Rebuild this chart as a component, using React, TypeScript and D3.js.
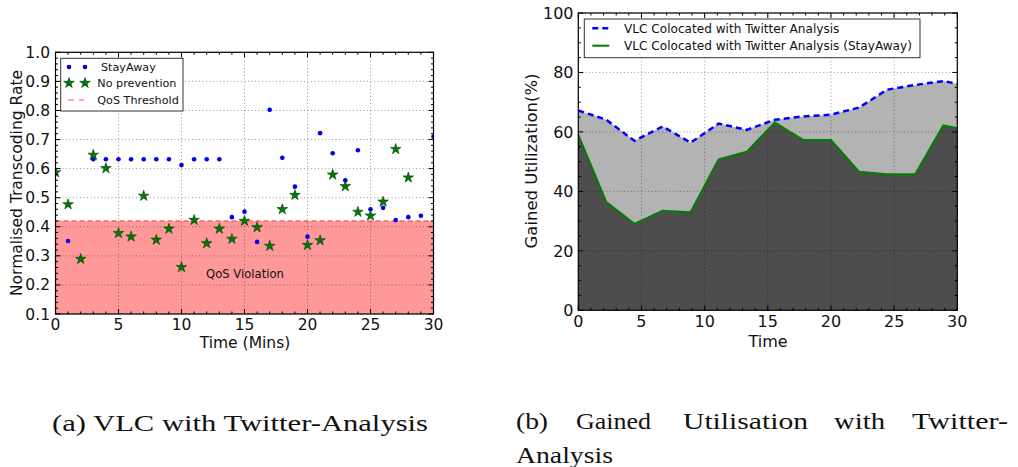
import React from "react";
import * as d3 from "d3";

// ---------- Left chart data ----------
const stayTimes = [0,1,2,3,4,5,6,7,8,9,10,11,12,13,14,15,16,17,18,19,20,21,22,23,24,25,26,27,28,29,30];
const stayAwayRate = [0.584,0.351,0.289,0.632,0.632,0.632,0.632,0.632,0.632,0.632,0.612,0.632,0.632,0.632,0.433,0.452,0.348,0.802,0.637,0.538,0.366,0.722,0.653,0.56,0.663,0.46,0.465,0.423,0.433,0.438,0.71];
const noPrevTimes = [0,1,2,3,4,5,6,7,8,9,10,11,12,13,14,15,16,17,18,19,20,21,22,23,24,25,26,27,28];
const noPreventionRate = [0.587,0.477,0.289,0.647,0.601,0.378,0.366,0.506,0.355,0.393,0.261,0.423,0.343,0.393,0.358,0.42,0.398,0.334,0.46,0.509,0.337,0.353,0.579,0.539,0.451,0.438,0.486,0.667,0.569];
const qosThreshold = 0.42;
const leftYTicks = [0.1,0.2,0.3,0.4,0.5,0.6,0.7,0.8,0.9,1.0];
const xTicks = [0,5,10,15,20,25,30];

// ---------- Right chart data ----------
const utilTimes = [0,2.22,4.44,6.67,8.89,11.11,13.33,15.56,17.78,20,22.22,24.44,26.67,28.89,31.11];
const colocatedUtil = [67.2,64.1,57.0,61.8,56.4,62.8,60.7,64.1,65.2,65.8,68.2,74.2,75.8,77.1,75.3];
const stayAwayUtil = [59.0,36.4,29.1,33.5,33.0,50.8,53.3,63.2,57.3,57.3,46.6,45.8,45.8,62.2,60.4];
const rightYTicks = [0,20,40,60,80,100];

const SANS = "'DejaVu Sans', sans-serif";
const SERIF = "'Liberation Serif', serif";

function starPath(cx: number, cy: number, R: number) {
  const r = R * 0.382;
  const pts: string[] = [];
  for (let i = 0; i < 10; i++) {
    const rad = i % 2 === 0 ? R : r;
    const a = -Math.PI / 2 + (i * Math.PI) / 5;
    pts.push(`${(cx + rad * Math.cos(a)).toFixed(2)},${(cy + rad * Math.sin(a)).toFixed(2)}`);
  }
  return "M" + pts.join("L") + "Z";
}

function Frame({ x, y, xMinor, yMinor, xMajor, yMajor }: any) {
  const [x0, x1] = x.range();
  const [y0, y1] = y.range(); // y0 bottom, y1 top
  const els: any[] = [];
  xMinor.forEach((v: number, i: number) => {
    const isMaj = xMajor.includes(v);
    const L = isMaj ? 5 : 2.5;
    const px = x(v);
    els.push(<line key={"xb" + i} x1={px} x2={px} y1={y0} y2={y0 - L} stroke="#000" strokeWidth={1} />);
    els.push(<line key={"xt" + i} x1={px} x2={px} y1={y1} y2={y1 + L} stroke="#000" strokeWidth={1} />);
  });
  yMinor.forEach((v: number, i: number) => {
    const isMaj = yMajor.some((m: number) => Math.abs(m - v) < 1e-6);
    const L = isMaj ? 5 : 2.5;
    const py = y(v);
    els.push(<line key={"yl" + i} x1={x0} x2={x0 + L} y1={py} y2={py} stroke="#000" strokeWidth={1} />);
    els.push(<line key={"yr" + i} x1={x1} x2={x1 - L} y1={py} y2={py} stroke="#000" strokeWidth={1} />);
  });
  return (
    <g>
      {els}
      <rect x={x0} y={y1} width={x1 - x0} height={y0 - y1} fill="none" stroke="#000" strokeWidth={1.2} />
    </g>
  );
}

function Grid({ x, y, xs, ys }: any) {
  const [x0, x1] = x.range();
  const [y0, y1] = y.range();
  return (
    <g stroke="#000" strokeOpacity={0.45} strokeWidth={0.9} strokeDasharray="1,2.5">
      {xs.map((v: number, i: number) => (
        <line key={"gx" + i} x1={x(v)} x2={x(v)} y1={y0} y2={y1} />
      ))}
      {ys.map((v: number, i: number) => (
        <line key={"gy" + i} x1={x0} x2={x1} y1={y(v)} y2={y(v)} />
      ))}
    </g>
  );
}

function LeftChart() {
  const x = d3.scaleLinear().domain([0, 30]).range([55.5, 433.5]);
  const y = d3.scaleLinear().domain([0.1, 1.0]).range([314, 52.3]);
  const xMinor = d3.range(0, 31, 1);
  const yMinor = d3.range(0, 46).map((i) => +(0.1 + i * 0.02).toFixed(3));
  return (
    <g>
      <defs>
        <clipPath id="clipL">
          <rect x={55.5} y={52.3} width={378} height={261.7} />
        </clipPath>
      </defs>
      <rect x={x(0)} y={y(qosThreshold)} width={x(30) - x(0)} height={y(0.1) - y(qosThreshold)} fill="#ff9999" />
      <Grid x={x} y={y} xs={xTicks} ys={leftYTicks} />
      <line x1={x(0)} x2={x(30)} y1={y(qosThreshold)} y2={y(qosThreshold)} stroke="#ff3333" strokeWidth={1} strokeDasharray="5,3" />
      <text x={245} y={278} fontFamily={SANS} fontSize={11.6} textAnchor="middle" fill="#111">QoS Violation</text>
      <g clipPath="url(#clipL)">
        {stayTimes.map((t, i) => (
          <circle key={"b" + i} cx={x(t)} cy={y(stayAwayRate[i])} r={2.3} fill="#0000e6" />
        ))}
        {noPrevTimes.map((t, i) => (
          <path key={"s" + i} d={starPath(x(t), y(noPreventionRate[i]), 5.6)} fill="#007a00" stroke="#0a3a0a" strokeWidth={0.6} />
        ))}
      </g>
      <Frame x={x} y={y} xMinor={xMinor} yMinor={yMinor} xMajor={xTicks} yMajor={leftYTicks} />
      {leftYTicks.map((v) => (
        <text key={"yt" + v} x={50} y={y(v) + 5.5} fontFamily={SANS} fontSize={15.5} textAnchor="end" fill="#111">{v.toFixed(1)}</text>
      ))}
      {xTicks.map((v) => (
        <text key={"xt" + v} x={x(v)} y={330} fontFamily={SANS} fontSize={15.5} textAnchor="middle" fill="#111">{v}</text>
      ))}
      <text x={245} y={348} fontFamily={SANS} fontSize={15.5} textAnchor="middle" fill="#111">Time (Mins)</text>
      <text transform="translate(22,183) rotate(-90)" fontFamily={SANS} fontSize={15.5} textAnchor="middle" fill="#111">Normalised Transcoding Rate</text>
      {/* legend */}
      <rect x={60.7} y={58.3} width={122.3} height={52.7} fill="#fff" stroke="#333" strokeWidth={1} />
      <circle cx={69} cy={67} r={2.3} fill="#0000e6" />
      <circle cx={85} cy={67} r={2.3} fill="#0000e6" />
      <text x={101} y={71} fontFamily={SANS} fontSize={11.2} fill="#111">StayAway</text>
      <path d={starPath(69, 83, 5.6)} fill="#007a00" stroke="#0a3a0a" strokeWidth={0.6} />
      <path d={starPath(85, 83, 5.6)} fill="#007a00" stroke="#0a3a0a" strokeWidth={0.6} />
      <text x={97.3} y={87} fontFamily={SANS} fontSize={11.2} fill="#111">No prevention</text>
      <line x1={68} x2={84} y1={100} y2={100} stroke="#ff5555" strokeWidth={1} strokeDasharray="6,5" />
      <text x={97.3} y={104} fontFamily={SANS} fontSize={11.2} fill="#111">QoS Threshold</text>
    </g>
  );
}

function RightChart() {
  const x = d3.scaleLinear().domain([0, 30]).range([578.3, 957.3]);
  const y = d3.scaleLinear().domain([0, 100]).range([310.3, 13]);
  const xMinor = d3.range(0, 31, 1);
  const yMinor = d3.range(0, 101, 5);
  const area = (vals: number[]) =>
    d3.area<number>().x((_, i) => x(utilTimes[i])).y0(y(0)).y1((d) => y(d))(vals) || "";
  const line = (vals: number[]) =>
    d3.line<number>().x((_, i) => x(utilTimes[i])).y((d) => y(d))(vals) || "";
  return (
    <g>
      <defs>
        <clipPath id="clipR">
          <rect x={578.3} y={13} width={379} height={297.3} />
        </clipPath>
      </defs>
      <g clipPath="url(#clipR)">
        <path d={area(colocatedUtil)} fill="#b3b3b3" />
        <path d={area(stayAwayUtil)} fill="#4d4d4d" />
      </g>
      <Grid x={x} y={y} xs={xTicks} ys={rightYTicks} />
      <g clipPath="url(#clipR)">
        <path d={line(stayAwayUtil)} fill="none" stroke="#008000" strokeWidth={2} />
        <path d={line(colocatedUtil)} fill="none" stroke="#0000ff" strokeWidth={2.5} strokeDasharray="6,4" />
      </g>
      <Frame x={x} y={y} xMinor={xMinor} yMinor={yMinor} xMajor={xTicks} yMajor={rightYTicks} />
      {rightYTicks.map((v) => (
        <text key={"ryt" + v} x={573.5} y={y(v) + 5.8} fontFamily={SANS} fontSize={16} textAnchor="end" fill="#111">{v}</text>
      ))}
      {xTicks.map((v) => (
        <text key={"rxt" + v} x={x(v)} y={327} fontFamily={SANS} fontSize={16} textAnchor="middle" fill="#111">{v}</text>
      ))}
      <text x={768} y={347} fontFamily={SANS} fontSize={16} textAnchor="middle" fill="#111">Time</text>
      <text transform="translate(537,161) rotate(-90)" fontFamily={SANS} fontSize={16.5} textAnchor="middle" fill="#111">Gained Utilization(%)</text>
      {/* legend */}
      <rect x={584.3} y={19} width={335.7} height={38.7} fill="#fff" stroke="#333" strokeWidth={1} />
      <line x1={592.3} x2={609.3} y1={28.3} y2={28.3} stroke="#0000ff" strokeWidth={2.5} strokeDasharray="6,4" />
      <text x={624} y={32.6} fontFamily={SANS} fontSize={12.1} fill="#111">VLC Colocated with Twitter Analysis</text>
      <line x1={592.3} x2={609.3} y1={45.7} y2={45.7} stroke="#008000" strokeWidth={2} />
      <text x={624} y={50} fontFamily={SANS} fontSize={12.1} fill="#111">VLC Colocated with Twitter Analysis (StayAway)</text>
    </g>
  );
}

function Captions() {
  const common = { fontFamily: SERIF, fontSize: 24, fill: "#111", lengthAdjust: "spacingAndGlyphs" as const };
  return (
    <g>
      <text x={52} y={430.5} textLength={376} {...common}>(a) VLC with Twitter-Analysis</text>
      <text x={516} y={429} textLength={32} {...common}>(b)</text>
      <text x={576} y={429} textLength={75} {...common}>Gained</text>
      <text x={683} y={429} textLength={125} {...common}>Utilisation</text>
      <text x={834} y={429} textLength={51} {...common}>with</text>
      <text x={912} y={429} textLength={96} {...common}>Twitter-</text>
      <text x={516} y={463.3} textLength={97} {...common}>Analysis</text>
    </g>
  );
}

export default function App() {
  return (
    <svg width={1018} height={467} style={{ position: "absolute", left: 0, top: 0, background: "#fff" }}>
      <rect width={1018} height={467} fill="#fff" />
      <LeftChart />
      <RightChart />
      <Captions />
    </svg>
  );
}
